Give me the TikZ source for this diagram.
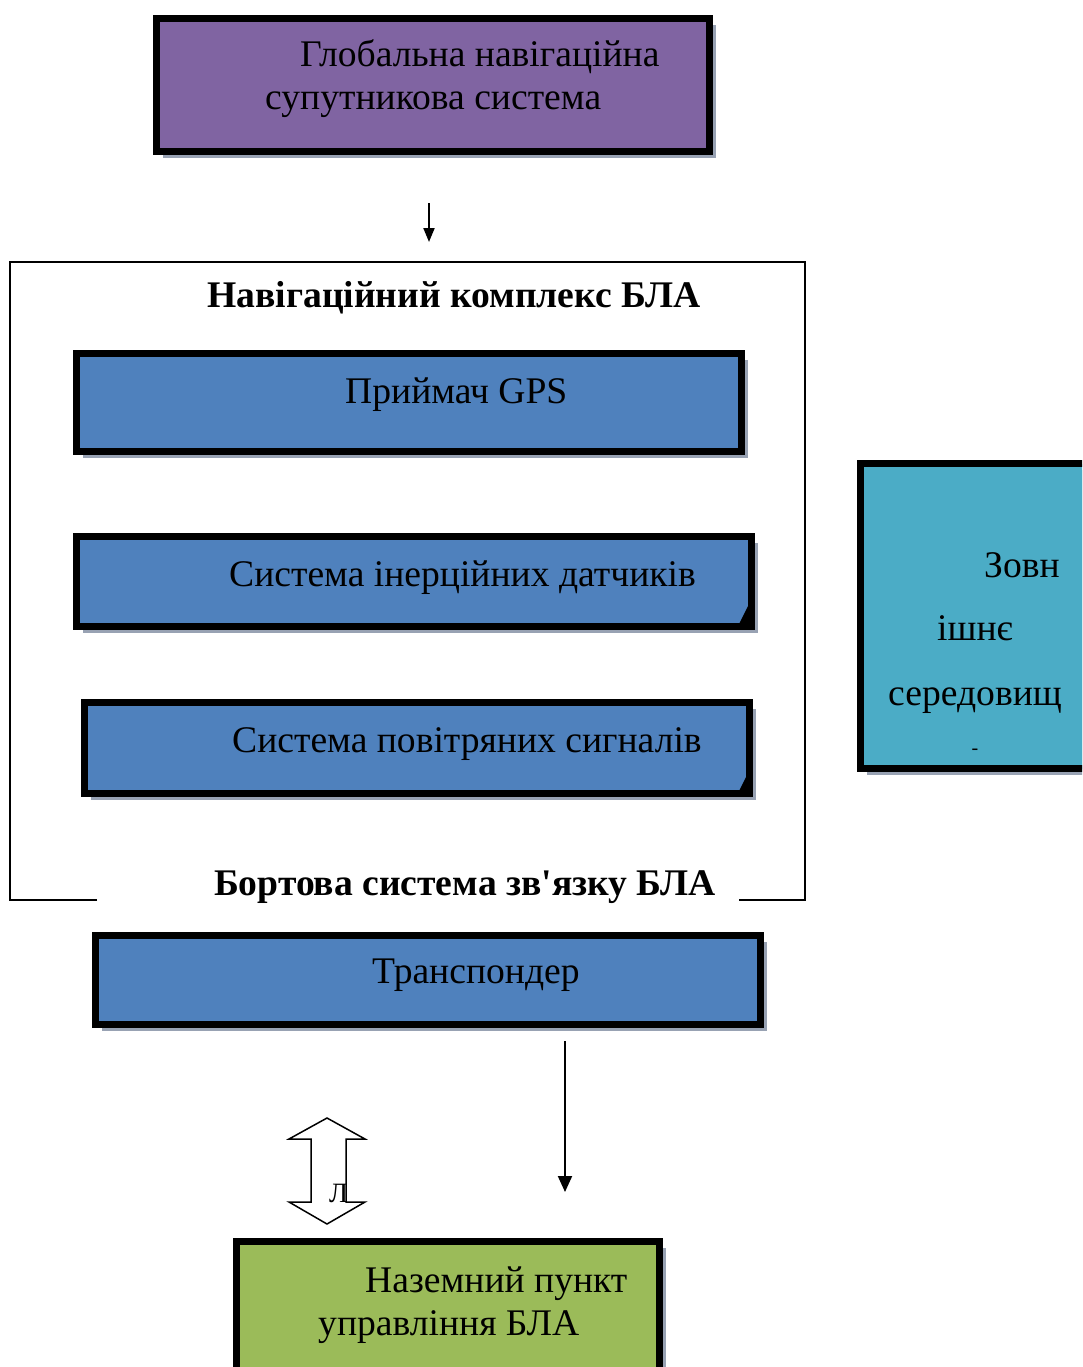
\documentclass[tikz,border=0pt]{standalone}
\usepackage{fontspec}
\setmainfont{Liberation Serif}[Ligatures=TeXOff]
\usetikzlibrary{shadows,arrows.meta}
\definecolor{gnssfill}{HTML}{8064A2}
\definecolor{unitfill}{HTML}{4F81BD}
\definecolor{envfill}{HTML}{4BACC6}
\definecolor{gcsfill}{HTML}{9BBB59}
\definecolor{shadowgray}{HTML}{98A2B3}
\begin{document}
\begin{tikzpicture}[x=1pt,y=-1pt,
  panel/.style={draw=black, line width=7pt, inner sep=0pt,
    drop shadow={shadow xshift=6.5pt, shadow yshift=-6.5pt, fill=shadowgray, opacity=1}},
  lbl/.style={inner sep=0pt, anchor=base west, font=\fontsize{37.6}{44}\selectfont},
  ttl/.style={inner sep=0pt, anchor=base, font=\bfseries\fontsize{37.6}{44}\selectfont},
  thinarrow/.style={line width=2pt, -{Triangle[length=14pt,width=11pt]}},
  fold/.style={fill=black, draw=none}]
\useasboundingbox (0,0) rectangle (1082,1367);
\clip (0,0) rectangle (1082,1367);

% satellite system
\node[panel, fill=gnssfill, minimum width=553, minimum height=133] (gnss) at (433,85) {};
\node[lbl] (gnssA) at (300,67) {Глобальна навігаційна};
\node[lbl] (gnssB) at (265,110) {супутникова система};

\coordinate (inA) at (429,203);
\coordinate (inB) at (429,242);
\draw[thinarrow] (inA) -- (inB);

% navigation complex frame, open at the bottom for the label
\draw[line width=1.5pt] (97,900) -- (10,900) -- (10,262) -- (805,262) -- (805,900) -- (739,900);
\node[ttl] (navtitle) at (454,307) {Навігаційний комплекс БЛА};
\node[ttl] (comtitle) at (465,895) {Бортова система зв'язку БЛА};

% onboard units
\node[panel, fill=unitfill, minimum width=665, minimum height=98] (gps) at (409,402.5) {};
\node[lbl] (gpsT) at (345,403) {Приймач GPS};

\node[panel, fill=unitfill, minimum width=675, minimum height=90] (imu) at (414,581.5) {};
\node[lbl] (imuT) at (229,586) {Система інерційних датчиків};
\fill[fold] (739,624) -- (748,606) -- (749,624) -- cycle;

\node[panel, fill=unitfill, minimum width=665, minimum height=91] (ads) at (417,748) {};
\node[lbl] (adsT) at (232,752) {Система повітряних сигналів};
\fill[fold] (739,791) -- (747,775) -- (750,791) -- cycle;

\node[panel, fill=unitfill, minimum width=665, minimum height=89] (xpdr) at (428,980) {};
\node[lbl] (xpdrT) at (372,983) {Транспондер};

% external environment
\node[panel, fill=envfill, minimum width=236, minimum height=305] (env) at (978.5,616) {};
\node[lbl] (envA) at (984,577) {Зовн};
\node[lbl] (envB) at (937,640) {ішнє};
\node[lbl] (envC) at (888,705) {середовищ};
\node[inner sep=0pt, font=\fontsize{20}{24}\selectfont] (envD) at (975,752) {-};

% downlink arrow
\coordinate (dnA) at (565,1041);
\coordinate (dnB) at (565,1192);
\draw[line width=2pt, -{Triangle[length=16pt,width=14pt]}] (dnA) -- (dnB);

% two-way block arrow
\draw[line width=1.5pt, line join=miter, fill=white] (327,1118) -- (365,1139) -- (346,1139) -- (346,1202)
  -- (365,1202) -- (327,1224) -- (289,1202) -- (311,1202) -- (311,1139) -- (289,1139) -- cycle;
\begin{scope}
  \clip (312,1140) rectangle (345,1203);
  \node[inner sep=0pt, anchor=base west, font=\fontsize{28}{32}\selectfont] (linkT) at (329,1202) {Л};
\end{scope}

% ground control station
\node[panel, fill=gcsfill, minimum width=423, minimum height=155] (gcs) at (448,1319) {};
\node[lbl] (gcsA) at (365,1292) {Наземний пункт};
\node[lbl] (gcsB) at (318,1335) {управління БЛА};
\end{tikzpicture}
\end{document}
